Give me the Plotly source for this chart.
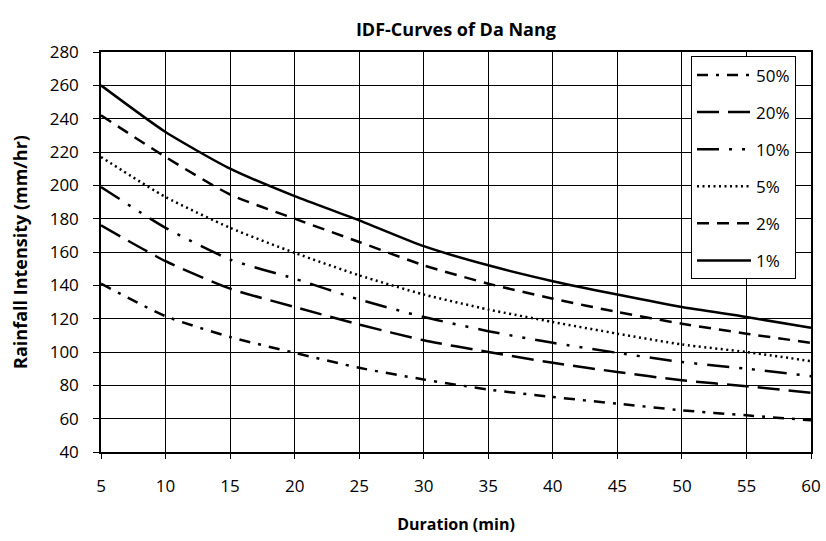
import plotly.graph_objects as go

durations = [5, 10, 15, 20, 25, 30, 35, 40, 45, 50, 55, 60]
p50 = [141, 121.5, 109, 99.5, 90.5, 83.5, 77.5, 73, 69, 65, 62, 59]
p20 = [176, 154.5, 138, 127, 116.5, 107, 100, 93.5, 88, 83, 79.5, 75.5]
p10 = [199, 174.5, 155.5, 144, 131.5, 121, 112.5, 105.5, 99.5, 94, 90, 85.5]
p5 = [217, 193, 174.5, 159.5, 146, 134.5, 125.5, 118, 111, 104.5, 100, 94.5]
p2 = [242, 217, 194.5, 180, 166, 152, 141, 132, 124, 117, 111, 105.5]
p1 = [260, 232, 210, 193.5, 179, 163.5, 152, 142.5, 134.5, 127, 121, 114.5]

series_names = ["50%", "20%", "10%", "5%", "2%", "1%"]
series_values = [p50, p20, p10, p5, p2, p1]
dashes = ["11px,8px,3px,8px", "22px,9px", "22px,10px,3px,10px,3px,10px",
          "2px,3.5px", "12px,8px", "solid"]

FONT = "Open Sans, sans-serif"

fig = go.Figure()
for name, vals, dash in zip(series_names, series_values, dashes):
    fig.add_trace(go.Scatter(
        x=durations, y=vals, name=name, mode="lines",
        line=dict(color="black", width=2.5, dash=dash, shape="spline", smoothing=0.6),
        legendgroup=name,
    ))

fig.update_layout(
    width=826, height=541,
    paper_bgcolor="white", plot_bgcolor="white",
    margin=dict(l=101, r=15, t=52, b=89, autoexpand=False),
    font=dict(family=FONT, size=17, color="black"),
    title=dict(text="<b>IDF-Curves of Da Nang</b>", x=0.552, xanchor="center",
               y=0.945, yanchor="middle", font=dict(size=18, family=FONT)),
    showlegend=True,
    legend=dict(x=0.831, xanchor="left", y=0.989, yanchor="top",
                bgcolor="white", bordercolor="black", borderwidth=1,
                font=dict(size=17, family=FONT), itemwidth=54,
                traceorder="grouped", tracegroupgap=12),
    xaxis=dict(range=[5, 60], tickmode="array", tickvals=durations,
               showgrid=True, gridcolor="black", gridwidth=1,
               showline=True, linecolor="black", linewidth=1.5, mirror=True,
               ticks="outside", ticklen=5, tickcolor="black",
               ticklabelstandoff=13, automargin=False,
               tickfont=dict(size=17, family=FONT),
               title=dict(text="<b>Duration (min)</b>", standoff=23,
                          font=dict(size=16, family=FONT)),
               zeroline=False),
    yaxis=dict(range=[40, 280], tickmode="array", tickvals=list(range(40, 281, 20)),
               showgrid=True, gridcolor="black", gridwidth=1,
               showline=True, linecolor="black", linewidth=1.5, mirror=True,
               ticks="outside", ticklen=6, tickcolor="black",
               ticklabelstandoff=11, automargin=False,
               tickfont=dict(size=17, family=FONT),
               title=dict(text="<b>Rainfall Intensity (mm/hr)</b>", standoff=17,
                          font=dict(size=18, family=FONT)),
               zeroline=False),
)

fig.write_html("out.html", config={"displayModeBar": False},
               post_script="document.body.style.margin='0px';")
